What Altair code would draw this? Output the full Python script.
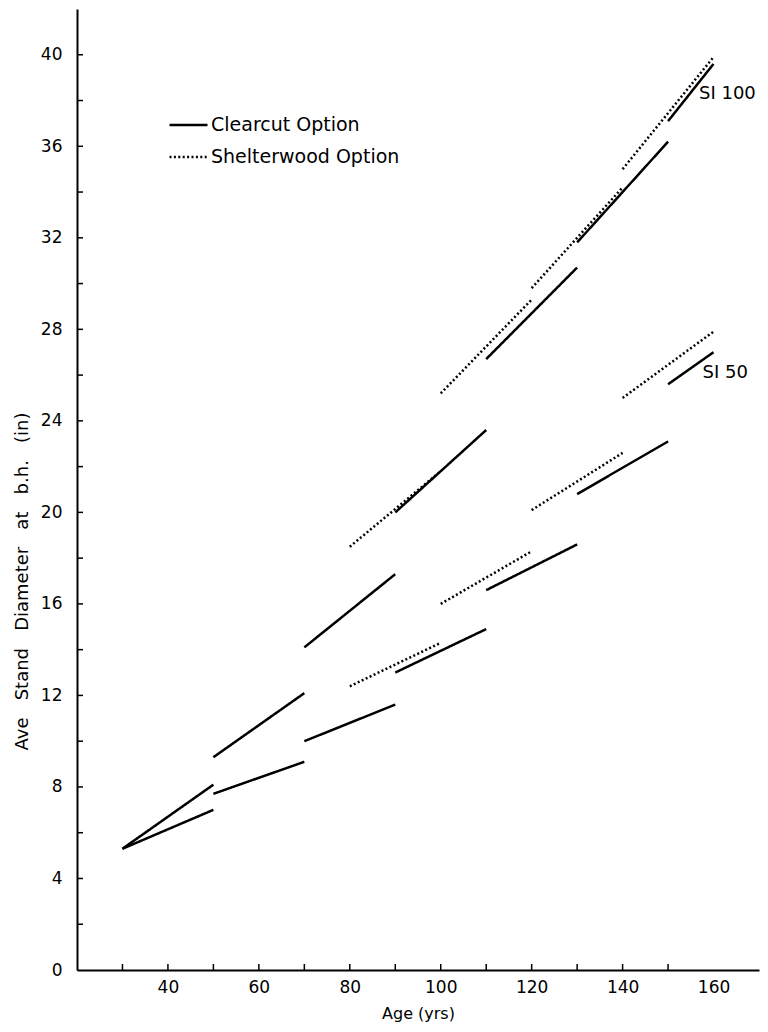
import altair as alt
import pandas as pd

# ---- data ----
cc_start_age = [30, 50, 70, 90, 110, 130, 150]
cc_end_age = [50, 70, 90, 110, 130, 150, 160]
sw_start_age = [80, 100, 120, 140]
sw_end_age = [100, 120, 140, 160]

# SI 100
cc100_start_dia = [5.3, 9.3, 14.1, 20.0, 26.7, 31.8, 37.1]
cc100_end_dia = [8.1, 12.1, 17.3, 23.6, 30.7, 36.2, 39.6]
sw100_start_dia = [18.5, 25.2, 29.8, 35.0]
sw100_end_dia = [21.8, 29.3, 34.2, 39.9]

# SI 50
cc50_start_dia = [5.3, 7.7, 10.0, 13.0, 16.6, 20.8, 25.6]
cc50_end_dia = [7.0, 9.1, 11.6, 14.9, 18.6, 23.1, 27.0]
sw50_start_dia = [12.4, 16.0, 20.1, 25.0]
sw50_end_dia = [14.3, 18.3, 22.6, 27.9]

options = ["Clearcut Option", "Shelterwood Option"]

label_text = ["SI 100", "SI 50"]
label_age = [156.8, 157.6]
label_dia = [38.3, 26.1]

x_label_values = [40, 60, 80, 100, 120, 140, 160]
x_tick_values = [30, 40, 50, 60, 70, 80, 90, 100, 110, 120, 130, 140, 150]
y_label_values = [0, 4, 8, 12, 16, 20, 24, 28, 32, 36, 40]
y_tick_values = [2, 4, 6, 8, 10, 12, 14, 16, 18, 20, 22, 24, 26, 28, 30, 32, 34, 36, 38, 40]

NB = "\u00a0"
y_title = (NB * 3).join(["Ave", "Stand", "Diameter", "at", "b.h.", "(in)"])

# ---- build long table ----
rows = []
def add(series, option, a0, a1, d0, d1):
    for i, (s0, s1, v0, v1) in enumerate(zip(a0, a1, d0, d1)):
        sid = f"{series}-{option}-{i}"
        rows.append({"age": s0, "dia": v0, "option": option, "seg": sid})
        rows.append({"age": s1, "dia": v1, "option": option, "seg": sid})

add("SI100", options[0], cc_start_age, cc_end_age, cc100_start_dia, cc100_end_dia)
add("SI100", options[1], sw_start_age, sw_end_age, sw100_start_dia, sw100_end_dia)
add("SI50", options[0], cc_start_age, cc_end_age, cc50_start_dia, cc50_end_dia)
add("SI50", options[1], sw_start_age, sw_end_age, sw50_start_dia, sw50_end_dia)
df = pd.DataFrame(rows)

labels_df = pd.DataFrame({"text": label_text, "age": label_age, "dia": label_dia})
xt_df = pd.DataFrame({"age": x_tick_values})
yt_df = pd.DataFrame({"dia": y_tick_values})

FONT = "DejaVu Sans"
W, H = 682, 961

xscale = alt.Scale(domain=[20, 170], nice=False, zero=False)
yscale = alt.Scale(domain=[0, 42], nice=False)

xaxis = alt.Axis(values=x_label_values, title="Age (yrs)", ticks=False, tickSize=0,
                 grid=False, domainColor="black", domainWidth=2,
                 labelFont=FONT, labelFontSize=17, labelColor="black", labelPadding=9,
                 titleFont=FONT, titleFontSize=16, titleFontWeight="normal",
                 titleColor="black", titlePadding=10)
yaxis = alt.Axis(values=y_label_values, title=y_title,
                 ticks=False, tickSize=0, grid=False, domainColor="black", domainWidth=2,
                 labelFont=FONT, labelFontSize=17, labelColor="black", labelPadding=15,
                 titleFont=FONT, titleFontSize=18, titleFontWeight="normal",
                 titleColor="black", titlePadding=9, titleY=572)

X = alt.X("age:Q", scale=xscale, axis=xaxis)
Y = alt.Y("dia:Q", scale=yscale, axis=yaxis)

lines = alt.Chart(df).mark_line(color="black", strokeWidth=2.5).encode(
    x=X, y=Y,
    strokeDash=alt.StrokeDash("option:N",
                              scale=alt.Scale(domain=options, range=[[1, 0], [2, 2.4]]),
                              legend=alt.Legend(title=None)),
    detail="seg:N",
)

xticks = alt.Chart(xt_df).mark_rule(color="black", strokeWidth=1.5).encode(
    x=X,
    y=alt.value(H),
    y2=alt.value(H - 6),
)
yticks = alt.Chart(yt_df).mark_rule(color="black", strokeWidth=1.5).encode(
    y=Y,
    x=alt.value(0),
    x2=alt.value(6),
)

texts = alt.Chart(labels_df).mark_text(
    align="left", baseline="middle", font=FONT, fontSize=18, color="black"
).encode(
    x=X, y=Y,
    text="text:N",
)

chart = alt.layer(lines, xticks, yticks, texts).properties(
    width=W, height=H,
    padding={"left": 69, "top": 1, "right": 1, "bottom": 54},
    autosize=alt.AutoSizeParams(type="none"),
).configure_view(stroke=None).configure_legend(
    orient="none", legendX=91, legendY=108,
    labelFont=FONT, labelFontSize=19, labelColor="black", labelOffset=2, labelLimit=0,
    symbolType="stroke", symbolSize=1444, symbolStrokeWidth=2.4,
    symbolStrokeColor="black", clipHeight=16, rowPadding=13,
)

chart.save("out.html", embed_options={"renderer": "svg", "actions": False})
